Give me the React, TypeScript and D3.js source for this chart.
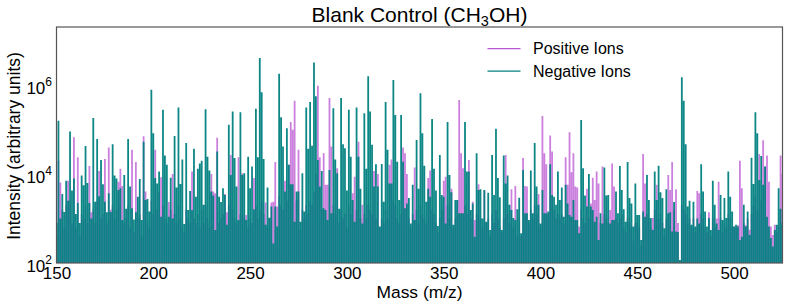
import React, { useEffect, useRef } from "react";
import * as d3 from "d3";

const WIDTH = 789;
const HEIGHT = 308;
const MARGIN = { top: 27, right: 6.5, bottom: 45, left: 56.5 };
const FONT = "'Liberation Sans', Arial, sans-serif";

const FIRST_MASS = 150;
const xTicks = [150, 200, 250, 300, 350, 400, 450, 500];
const yTicks = [2, 4, 6];
const seriesNames = ["Positive Ions", "Negative Ions"];

// log10(intensity), one value per nominal mass from 150 to 525
const positiveLog = [
  2.6, 4.3, 3.81, 3.2, 2.8, 3.3, 3.85, 3.4, 2.9, 4.83,
  2.8, 4.38, 2.6, 3.1, 3.0, 3.3, 2.9, 4.18, 3.14, 3.2,
  2.9, 3.4, 4.07, 3.0, 3.1, 4.34, 2.9, 4.6, 3.2, 3.3,
  3.0, 3.2, 3.83, 4.12, 3.73, 2.9, 3.0, 3.3, 2.8, 4.55,
  2.7, 4.27, 3.0, 3.1, 2.6, 4.85, 3.61, 2.9, 2.8, 3.4,
  3.1, 4.55, 3.2, 3.6, 3.93, 3.3, 3.0, 2.9, 3.37, 3.2,
  4.0, 3.1, 2.9, 3.3, 3.0, 2.8, 2.7, 3.2, 3.0, 2.9,
  4.06, 3.0, 2.9, 3.1, 2.8, 3.2, 2.9, 3.3, 3.0, 2.8,
  4.0, 3.61, 3.57, 4.82, 2.9, 3.0, 3.1, 3.55, 3.14, 3.3,
  4.43, 3.2, 3.0, 2.9, 4.38, 3.1, 4.02, 3.0, 3.08, 2.8,
  3.0, 2.9, 3.91, 3.3, 3.0, 3.2, 3.4, 3.1, 3.36, 2.8,
  3.0, 3.36, 3.38, 4.27, 3.27, 3.5, 3.3, 3.2, 3.85, 3.4,
  4.21, 5.17, 5.0, 5.65, 3.4, 4.55, 2.75, 3.2, 3.0, 3.3,
  3.1, 3.4, 3.3, 3.6, 4.0, 5.99, 4.38, 3.2, 4.47, 3.76,
  3.76, 5.71, 4.62, 3.3, 3.1, 4.13, 2.9, 3.2, 3.0, 3.1,
  2.8, 3.3, 3.1, 3.57, 3.94, 3.2, 4.73, 3.0, 3.31, 3.1,
  3.0, 3.3, 3.2, 3.1, 4.07, 3.0, 4.0, 2.8, 3.0, 2.9,
  3.2, 3.0, 4.21, 4.33, 3.4, 3.3, 3.0, 2.9, 3.1, 4.6,
  4.47, 4.0, 3.0, 2.8, 3.1, 4.15, 3.2, 2.9, 3.3, 3.1,
  3.0, 2.9, 3.91, 4.08, 3.2, 3.1, 2.9, 2.7, 3.0, 3.2,
  3.85, 3.94, 3.3, 3.0, 3.67, 2.8, 3.0, 3.42, 5.67, 4.47,
  4.13, 3.3, 3.1, 4.32, 3.0, 3.38, 2.97, 3.1, 3.77, 3.0,
  2.8, 3.63, 2.9, 3.0, 2.6, 3.1, 2.9, 3.2, 3.0, 2.8,
  2.7, 3.0, 4.43, 3.1, 2.9, 3.66, 2.8, 3.73, 2.6, 3.0,
  2.6, 4.36, 3.73, 3.72, 2.9, 3.2, 3.0, 3.3, 3.1, 3.55,
  2.8, 5.31, 4.47, 4.22, 3.1, 4.87, 4.51, 3.2, 3.0, 3.1,
  3.0, 3.1, 2.9, 4.38, 3.76, 4.94, 4.04, 4.47, 3.72, 3.7,
  2.82, 3.2, 3.0, 2.9, 3.67, 3.0, 3.34, 3.92, 3.42, 4.06,
  3.79, 2.9, 4.17, 3.1, 3.0, 2.9, 3.19, 4.24, 3.72, 3.0,
  2.9, 3.0, 3.1, 2.8, 2.7, 3.0, 2.9, 2.8, 2.5, 2.9,
  2.9, 2.8, 2.4, 4.45, 3.79, 3.1, 3.0, 2.8, 3.01, 3.2,
  3.76, 3.0, 3.1, 2.9, 2.6, 3.0, 3.98, 3.64, 4.27, 3.19,
  3.66, 2.9, 2.05, 3.3, 3.2, 3.1, 2.9, 3.0, 2.8, 3.0,
  2.7, 3.62, 3.57, 3.1, 3.0, 2.8, 2.7, 3.14, 2.6, 3.0,
  2.8, 3.0, 3.83, 3.0, 2.7, 2.9, 2.8, 3.1, 3.0, 2.8,
  2.82, 2.8, 2.85, 4.3, 3.68, 2.9, 2.85, 3.0, 2.75, 3.1,
  3.3, 3.5, 3.2, 4.45, 3.4, 4.76, 4.17, 4.42, 3.83, 2.82,
  2.63, 2.86, 2.7, 2.82, 4.42, 4.0,
];

const negativeLog = [
  2.9, 5.2, 3.0, 3.55, 3.15, 3.85, 3.4, 4.96, 3.63, 3.9,
  3.1, 3.35, 2.9, 3.97, 3.75, 4.63, 3.8, 3.35, 3.0, 5.26,
  3.38, 4.79, 3.5, 4.32, 3.77, 3.38, 3.14, 3.57, 3.15, 4.67,
  3.97, 3.9, 3.64, 3.68, 2.97, 3.98, 3.22, 4.79, 3.72, 3.23,
  2.98, 3.14, 3.49, 3.89, 2.97, 4.73, 3.42, 3.44, 3.16, 5.9,
  4.92, 3.91, 3.79, 4.06, 3.04, 5.45, 4.42, 4.21, 3.04, 3.92,
  3.0, 4.86, 3.7, 5.5, 3.78, 4.33, 2.88, 4.7, 3.19, 3.62,
  3.19, 4.57, 3.49, 4.12, 4.24, 4.3, 3.31, 5.46, 4.39, 4.08,
  3.61, 3.52, 2.74, 4.51, 3.49, 3.37, 3.68, 3.53, 2.86, 5.11,
  3.98, 5.41, 4.36, 3.72, 2.97, 5.39, 3.98, 4.02, 2.97, 4.39,
  3.68, 4.17, 3.21, 5.47, 4.38, 6.61, 5.84, 4.34, 2.86, 3.7,
  3.02, 3.27, 2.44, 3.27, 2.82, 6.26, 5.28, 4.62, 3.61, 5.03,
  4.21, 3.77, 3.77, 2.93, 3.61, 3.61, 2.93, 4.02, 3.16, 5.5,
  4.57, 5.62, 4.64, 6.51, 5.75, 4.32, 3.72, 4.07, 3.23, 3.19,
  2.97, 4.09, 3.12, 5.48, 4.33, 4.02, 3.22, 5.71, 4.67, 4.58,
  3.63, 5.45, 4.39, 3.42, 2.93, 5.5, 4.39, 3.67, 2.89, 5.37,
  4.12, 6.2, 5.41, 4.66, 3.72, 4.22, 3.72, 2.82, 4.23, 3.38,
  5.62, 4.55, 3.79, 3.79, 6.12, 5.33, 4.28, 3.42, 5.33, 4.28,
  3.23, 3.34, 3.46, 2.89, 3.76, 2.97, 4.77, 3.67, 5.82, 4.92,
  4.19, 3.38, 3.67, 3.49, 5.24, 4.12, 3.63, 2.83, 4.43, 3.53,
  3.49, 2.89, 5.17, 3.98, 3.59, 2.86, 3.42, 3.42, 3.12, 3.12,
  3.12, 5.17, 4.06, 4.06, 3.19, 3.34, 2.59, 4.47, 3.64, 3.66,
  3.0, 3.64, 2.93, 3.58, 2.74, 4.43, 3.53, 5.02, 3.91, 3.48,
  2.74, 4.42, 3.79, 3.97, 3.31, 3.19, 3.01, 2.97, 3.21, 3.47,
  2.67, 4.09, 3.12, 3.12, 2.97, 4.08, 3.12, 4.7, 3.72, 3.31,
  2.89, 3.64, 3.12, 3.12, 3.16, 4.22, 3.53, 3.49, 3.31, 4.06,
  3.42, 3.7, 3.04, 3.76, 3.34, 3.08, 3.04, 3.42, 2.97, 2.97,
  2.67, 5.22, 4.13, 3.52, 3.27, 4.0, 3.27, 3.19, 2.93, 3.04,
  2.52, 3.12, 2.89, 4.15, 3.52, 3.53, 2.89, 2.97, 2.97, 3.61,
  3.12, 4.18, 3.64, 3.21, 2.93, 4.27, 3.46, 3.34, 2.82, 3.79,
  3.08, 3.08, 2.52, 3.16, 3.04, 3.98, 3.42, 3.01, 2.74, 4.06,
  3.42, 4.19, 3.59, 3.46, 2.78, 3.66, 3.12, 3.14, 2.71, 3.37,
  2.71, 2.7, 2.07, 6.18, 5.65, 4.67, 3.27, 3.4, 2.86, 3.38,
  2.82, 3.0, 2.89, 4.22, 3.61, 3.16, 2.82, 3.01, 2.74, 3.85,
  3.31, 2.89, 2.74, 3.53, 2.97, 3.46, 3.01, 4.06, 3.49, 3.16,
  2.82, 2.86, 2.82, 2.52, 2.59, 3.31, 2.82, 3.16, 2.63, 4.37,
  3.78, 5.39, 4.92, 3.87, 4.41, 3.76, 4.17, 3.04, 2.82, 2.56,
  2.37, 2.74, 2.86, 3.68, 3.22, 2.9,
];

const POS_COLOR = "#ba55d3";
const NEG_COLOR = "#008080";

export default function App() {
  const xAxisRef = useRef<SVGGElement>(null);

  const boundsWidth = WIDTH - MARGIN.left - MARGIN.right;
  const boundsHeight = HEIGHT - MARGIN.top - MARGIN.bottom;

  const xScale = d3.scaleLinear().domain([150, 525]).range([0, boundsWidth]);
  const yScale = d3
    .scaleLog()
    .domain([1e2, 10 ** 7.31])
    .range([boundsHeight, 0]);

  // x axis is done by d3, not react
  useEffect(() => {
    const g = d3.select(xAxisRef.current);
    g.selectAll("*").remove();
    g.call(d3.axisBottom(xScale).tickValues(xTicks).tickSize(0).tickPadding(3.5) as any);
    g.select(".domain").remove();
    g.selectAll("text").attr("font-family", FONT).attr("font-size", 17).attr("fill", "#000");
  }, []);

  // one vertical rule per mass, going down to the axis
  const stickPath = (values: number[]) =>
    values
      .map((v, i) => `M${xScale(FIRST_MASS + i)},${boundsHeight}V${yScale(10 ** v)}`)
      .join("");

  return (
    <svg
      width={WIDTH}
      height={HEIGHT}
      style={{ position: "absolute", left: 0, top: 0, background: "#fff" }}
    >
      <defs>
        <clipPath id="plot-clip">
          <rect width={boundsWidth} height={boundsHeight} />
        </clipPath>
      </defs>

      <text x={419.5} y={21.5} textAnchor="middle" fontFamily={FONT} fontSize={21}>
        Blank Control (CH
        <tspan dy={4} fontSize={14.5}>3</tspan>
        <tspan dy={-4}>OH)</tspan>
      </text>

      <g transform={`translate(${MARGIN.left},${MARGIN.top})`}>
        <g clipPath="url(#plot-clip)" fill="none" strokeWidth={1.8}>
          <path d={stickPath(positiveLog)} stroke={POS_COLOR} strokeOpacity={0.75} />
          <path d={stickPath(negativeLog)} stroke={NEG_COLOR} strokeOpacity={0.95} />
        </g>
        <rect width={boundsWidth} height={boundsHeight} fill="none" stroke="#555" strokeWidth={1.2} />
        <g ref={xAxisRef} transform={`translate(0,${boundsHeight})`} />
        {yTicks.map((e) => (
          <text
            key={e}
            x={-4.5}
            y={yScale(10 ** e) + 8.5}
            textAnchor="end"
            fontFamily={FONT}
            fontSize={17}
          >
            10
            <tspan dy={-8} fontSize={12}>{e}</tspan>
          </text>
        ))}
      </g>

      {seriesNames.map((name, i) => (
        <g key={name} transform={`translate(0,${48.7 + i * 22.4})`}>
          <line x1={487.5} x2={520.5} stroke={i === 0 ? POS_COLOR : NEG_COLOR} strokeWidth={1.3} />
          <text x={533} y={5.5} fontFamily={FONT} fontSize={16}>{name}</text>
        </g>
      ))}

      <text x={419.5} y={298} textAnchor="middle" fontFamily={FONT} fontSize={17.4}>
        Mass (m/z)
      </text>
      <text
        transform="translate(20,146) rotate(-90)"
        textAnchor="middle"
        fontFamily={FONT}
        fontSize={17.5}
      >
        Intensity (arbitrary units)
      </text>
    </svg>
  );
}
